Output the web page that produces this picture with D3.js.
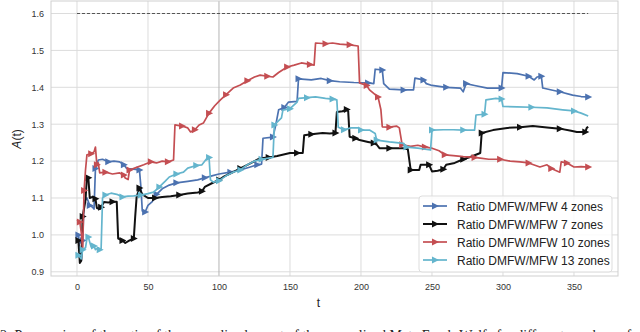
<!DOCTYPE html>
<html>
<head>
<meta charset="utf-8">
<script src="https://cdn.jsdelivr.net/npm/d3@7"></script>
<style>
  body { margin: 0; background: #fff; }
  svg { display: block; font-family: "Liberation Sans", Arial, sans-serif; }
</style>
</head>
<body>
<svg id="chart" width="640" height="332"></svg>
<script>
// ---- data: [t, ratio] ----
const zones4 = [[0,1.0],[1,1.0],[2,0.95],[3,0.93],[4,0.985],[5,1.09],[7,1.1],[9,1.08],[11,1.075],[12,1.07],[13,1.18],[15,1.203],[18,1.205],[22,1.198],[26,1.2],[30,1.198],[33,1.19],[35,1.18],[40,1.178],[44,1.176],[45,1.13],[46,1.065],[48,1.062],[50,1.08],[53,1.09],[56,1.11],[60,1.125],[65,1.135],[70,1.141],[78,1.145],[85,1.149],[90,1.155],[95,1.16],[100,1.165],[108,1.17],[115,1.176],[122,1.184],[127,1.19],[130,1.192],[131,1.262],[138,1.265],[140,1.298],[142,1.339],[146,1.345],[149,1.36],[155,1.362],[156,1.423],[165,1.42],[172,1.424],[178,1.418],[185,1.415],[195,1.413],[205,1.412],[209,1.41],[210,1.449],[215,1.447],[216,1.41],[220,1.395],[230,1.393],[237,1.393],[238,1.425],[244,1.42],[246,1.41],[250,1.405],[260,1.4],[270,1.398],[272,1.388],[274,1.41],[280,1.405],[289,1.398],[299,1.398],[300,1.44],[310,1.437],[318,1.43],[322,1.42],[324,1.428],[327,1.43],[328,1.398],[335,1.392],[340,1.388],[349,1.379],[355,1.375],[360,1.374]];

const zones7 = [[0,0.986],[1,0.985],[2,0.924],[3,0.93],[4,1.05],[6,1.094],[7,1.157],[8,1.155],[9,1.1],[11,1.103],[13,1.098],[14,1.073],[16,1.07],[17,1.075],[19,1.089],[22,1.088],[25,1.09],[28,1.09],[29,0.99],[32,0.985],[34,0.978],[37,0.985],[40,0.99],[41,1.05],[42,1.103],[44,1.127],[46,1.11],[50,1.1],[55,1.1],[60,1.103],[66,1.105],[72,1.108],[78,1.112],[85,1.115],[88,1.118],[90,1.13],[95,1.14],[100,1.149],[103,1.157],[110,1.17],[115,1.18],[120,1.19],[129,1.208],[135,1.21],[141,1.214],[150,1.222],[155,1.222],[159,1.222],[160,1.27],[165,1.273],[173,1.276],[178,1.275],[182,1.276],[183,1.333],[187,1.335],[190,1.34],[191,1.335],[192,1.266],[196,1.262],[199,1.257],[205,1.252],[209,1.249],[211,1.245],[213,1.235],[220,1.235],[230,1.235],[233,1.232],[235,1.176],[241,1.176],[242,1.19],[248,1.19],[250,1.172],[254,1.174],[258,1.178],[260,1.19],[266,1.195],[272,1.205],[277,1.211],[284,1.222],[285,1.276],[293,1.284],[303,1.29],[312,1.292],[321,1.295],[331,1.291],[340,1.288],[348,1.282],[352,1.279],[358,1.279],[359,1.29],[360,1.293]];

const zones10 = [[0,1.04],[2,1.035],[3,1.007],[4,0.96],[5,1.12],[6,1.176],[7,1.217],[10,1.22],[12,1.225],[13,1.238],[14,1.19],[15,1.195],[16,1.168],[20,1.17],[25,1.165],[30,1.168],[33,1.162],[34,1.154],[36,1.15],[37,1.176],[42,1.183],[47,1.19],[52,1.198],[56,1.195],[60,1.2],[64,1.198],[68,1.203],[69,1.298],[74,1.295],[78,1.29],[80,1.279],[83,1.285],[86,1.298],[89,1.303],[93,1.33],[97,1.35],[101,1.366],[105,1.38],[110,1.398],[115,1.406],[120,1.418],[125,1.428],[129,1.433],[134,1.43],[138,1.428],[142,1.44],[148,1.455],[153,1.46],[158,1.466],[164,1.462],[167,1.46],[168,1.52],[175,1.518],[180,1.52],[185,1.517],[192,1.515],[198,1.512],[199,1.412],[204,1.405],[206,1.393],[210,1.38],[212,1.374],[214,1.34],[215,1.293],[220,1.292],[225,1.295],[227,1.29],[229,1.244],[235,1.24],[240,1.243],[245,1.238],[250,1.235],[255,1.228],[259,1.217],[265,1.215],[272,1.212],[280,1.21],[284,1.208],[290,1.205],[298,1.205],[305,1.2],[312,1.198],[318,1.195],[326,1.184],[331,1.19],[334,1.18],[340,1.17],[341,1.198],[345,1.195],[350,1.184],[355,1.185],[360,1.184]];

const zones13 = [[0,0.945],[1,0.945],[2,0.94],[3,0.935],[4,0.96],[6,0.965],[7,0.99],[8,0.994],[9,0.98],[10,0.967],[12,0.97],[13,0.96],[15,0.965],[16,0.96],[17,0.963],[18,1.1],[20,1.108],[24,1.113],[28,1.11],[32,1.103],[36,1.105],[40,1.106],[45,1.108],[50,1.112],[54,1.116],[58,1.13],[62,1.145],[65,1.157],[70,1.165],[75,1.17],[78,1.181],[84,1.188],[88,1.19],[91,1.205],[93,1.21],[94,1.149],[96,1.143],[100,1.147],[105,1.16],[110,1.17],[115,1.176],[120,1.19],[125,1.2],[130,1.205],[135,1.208],[138,1.21],[139,1.298],[144,1.317],[145,1.338],[150,1.342],[155,1.36],[156,1.37],[162,1.372],[168,1.374],[175,1.37],[180,1.368],[183,1.366],[184,1.292],[188,1.285],[193,1.29],[198,1.29],[200,1.284],[206,1.284],[210,1.275],[211,1.257],[220,1.252],[230,1.248],[232,1.238],[240,1.235],[249,1.23],[250,1.284],[258,1.285],[265,1.285],[272,1.284],[280,1.284],[281,1.325],[287,1.327],[288,1.366],[295,1.37],[299,1.368],[300,1.348],[310,1.347],[320,1.346],[331,1.344],[342,1.339],[350,1.336],[355,1.33],[360,1.322]];

const seriesNames = ["Ratio DMFW/MFW 4 zones", "Ratio DMFW/MFW 7 zones", "Ratio DMFW/MFW 10 zones", "Ratio DMFW/MFW 13 zones"];
const seriesColors = ["#4c72b0", "#111111", "#c44e52", "#64b5cd"];
const xTicks = [0, 50, 100, 150, 200, 250, 300, 350];
const yTicks = [0.9, 1.0, 1.1, 1.2, 1.3, 1.4, 1.5, 1.6];
const boundLevel = 1.6;
const boundRange = [0, 360];
const markedT = 100;

class LineChart {
  constructor(_config, _data) {
    this.config = {
      parentElement: _config.parentElement,
      margin: { top: 1, bottom: 56, right: 22, left: 51 },
      width: 640, height: 332
    };
    this.data = _data;
    this.initVis();
  }

  initVis() {
    let vis = this;
    vis.w = vis.config.width - vis.config.margin.left - vis.config.margin.right;
    vis.h = vis.config.height - vis.config.margin.top - vis.config.margin.bottom;

    vis.xScale = d3.scaleLinear().domain([-18.3, 381]).range([0, vis.w]);
    vis.yScale = d3.scaleLinear().domain([0.8886, 1.6339]).range([vis.h, 0]);

    vis.svg = d3.select(vis.config.parentElement);
    vis.chart = vis.svg.append('g')
      .attr('transform', `translate(${vis.config.margin.left},${vis.config.margin.top})`);
    vis.renderVis();
  }

  renderVis() {
    let vis = this;
    const x = vis.xScale, y = vis.yScale;

    // grid (seaborn whitegrid look)
    vis.chart.append('g').selectAll('line.hg').data(yTicks).join('line')
      .attr('x1', 0).attr('x2', vis.w)
      .attr('y1', d => y(d)).attr('y2', d => y(d))
      .attr('stroke', '#dcdcdc').attr('stroke-width', 1);
    vis.chart.append('g').selectAll('line.vg').data(xTicks).join('line')
      .attr('y1', 0).attr('y2', vis.h)
      .attr('x1', d => x(d)).attr('x2', d => x(d))
      .attr('stroke', d => d === markedT ? '#b4b4b4' : '#dcdcdc').attr('stroke-width', 1);

    vis.chart.append('rect')
      .attr('width', vis.w).attr('height', vis.h)
      .attr('fill', 'none').attr('stroke', '#cfcfcf');

    // axes
    const xAxis = d3.axisBottom(x).tickValues(xTicks).tickSize(0).tickPadding(8);
    const yAxis = d3.axisLeft(y).tickValues(yTicks).tickSize(0).tickPadding(7).tickFormat(d3.format('.1f'));
    [vis.chart.append('g').attr('transform', `translate(0,${vis.h})`).call(xAxis),
     vis.chart.append('g').call(yAxis)].forEach(g => {
      g.select('.domain').remove();
      g.selectAll('text').attr('font-size', 9).attr('fill', '#333')
        .attr('font-family', '"Liberation Sans", Arial, sans-serif');
    });

    // upper bound dashed line
    vis.chart.append('line')
      .attr('x1', x(boundRange[0])).attr('x2', x(boundRange[1]))
      .attr('y1', y(boundLevel)).attr('y2', y(boundLevel))
      .attr('stroke', '#555').attr('stroke-width', 1).attr('stroke-dasharray', '3,2');

    const line = d3.line().x(d => x(d[0])).y(d => y(d[1]));
    const tri = 'M-3,-3.5L4,0L-3,3.5Z';

    vis.data.forEach((s, i) => {
      vis.chart.append('path').datum(s)
        .attr('d', line).attr('fill', 'none')
        .attr('stroke', seriesColors[i]).attr('stroke-width', i === 1 ? 2 : 1.7)
        .attr('stroke-linejoin', 'round');
      vis.chart.append('g').selectAll('path').data(s.filter((d, j) => j % 3 === 1)).join('path')
        .attr('d', tri).attr('fill', seriesColors[i])
        .attr('transform', d => `translate(${x(d[0])},${y(d[1])})`);
    });

    // labels
    vis.svg.append('text')
      .attr('transform', `translate(21,${vis.config.margin.top + y(1.26)}) rotate(-90)`)
      .attr('text-anchor', 'middle').attr('font-size', 12).attr('fill', '#222')
      .html('<tspan font-style="italic">A</tspan>(t)');
    vis.svg.append('text')
      .attr('x', vis.config.margin.left + x(170)).attr('y', 307)
      .attr('text-anchor', 'middle').attr('font-size', 12).attr('fill', '#222')
      .text('t');

    // legend
    const lg = vis.svg.append('g').attr('transform', 'translate(419,196)');
    lg.append('rect').attr('width', 193).attr('height', 76).attr('rx', 3)
      .attr('fill', 'rgba(255,255,255,0.85)').attr('stroke', '#dddddd');
    seriesNames.forEach((name, i) => {
      const row = lg.append('g').attr('transform', `translate(0,${10 + i * 18})`);
      row.append('line').attr('x1', 4).attr('x2', 28)
        .attr('stroke', seriesColors[i]).attr('stroke-width', i === 1 ? 2 : 1.7);
      row.append('path').attr('d', tri).attr('fill', seriesColors[i])
        .attr('transform', 'translate(16,0)');
      row.append('text').attr('x', 38).attr('y', 4.5)
        .attr('font-size', 12).attr('fill', '#222').text(name);
    });

    // caption, cut off by the bottom edge as in the source figure
    vis.svg.append('text')
      .attr('x', 0).attr('y', 340)
      .attr('font-family', '"Liberation Serif", "Times New Roman", serif')
      .attr('font-size', 14).attr('fill', '#222')
      .text('2: Progression of the ratio of the normalized regret of the normalized Meta Frank-Wolfe for different numbers of zones');
  }
}

new LineChart({ parentElement: '#chart' }, [zones4, zones7, zones10, zones13]);
</script>
</body>
</html>
